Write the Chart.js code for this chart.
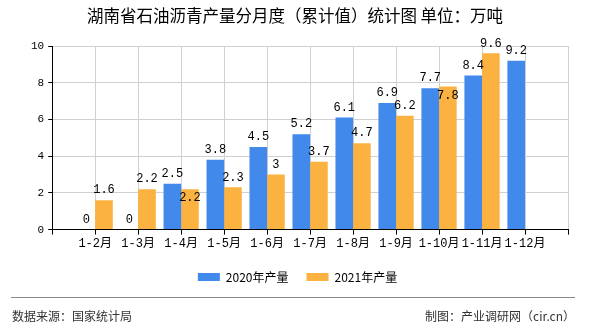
<!DOCTYPE html>
<html>
<head>
<meta charset="utf-8">
<script src="https://cdn.jsdelivr.net/npm/chart.js@4/dist/chart.umd.min.js"></script>
<style>
  html, body { margin: 0; padding: 0; background: #fff; }
  #wrap { width: 590px; height: 330px; position: relative; }
</style>
</head>
<body>
<div id="wrap"><canvas id="chart"></canvas></div>
<script>
// 湖南省石油沥青产量 — cumulative by month, unit 万吨
var months = ["1-2月", "1-3月", "1-4月", "1-5月", "1-6月", "1-7月", "1-8月", "1-9月", "1-10月", "1-11月", "1-12月"];
var output2020 = [0, 0, 2.5, 3.8, 4.5, 5.2, 6.1, 6.9, 7.7, 8.4, 9.2];
var output2021 = [1.6, 2.2, 2.2, 2.3, 3, 3.7, 4.7, 6.2, 7.8, 9.6, null];
var yTicks = [0, 2, 4, 6, 8, 10];

var titleText = "湖南省石油沥青产量分月度（累计值）统计图 单位：万吨";
var sourceText = "数据来源：国家统计局";
var makerText = "制图：产业调研网（cir.cn）";

var numFont = "'Liberation Mono', 'Noto Sans CJK SC', monospace";
var cjkFont = "'Noto Sans CJK SC', sans-serif";

// empty slot before first month and after last, like the original axis
var labels = [""].concat(months).concat([""]);
function pad(arr) { return [null].concat(arr).concat([null]); }

function overlaps(a, b) {
  return a.x1 < b.x2 && a.x2 > b.x1 && a.y1 < b.y2 && a.y2 > b.y1;
}

var decorPlugin = {
  id: "decor",
  afterDatasetsDraw: function (chart) {
    var ctx = chart.ctx;
    var placed = {}; // label boxes by category index
    ctx.save();
    ctx.fillStyle = "#000";
    ctx.font = "12px " + numFont;
    ctx.textAlign = "center";
    chart.data.datasets.forEach(function (ds, i) {
      var meta = chart.getDatasetMeta(i);
      meta.data.forEach(function (bar, j) {
        var v = ds.data[j];
        if (v === null || v === undefined) return;
        var txt = String(v);
        var w = ctx.measureText(txt).width + 2;
        var box = { x1: bar.x - w / 2, x2: bar.x + w / 2, y1: bar.y - 15, y2: bar.y - 4 };
        var prev = placed[j] || [];
        var hit = prev.some(function (p) { return overlaps(p, box); });
        if (hit) {
          // push the label into the top of its bar, as the original does
          ctx.textBaseline = "top";
          ctx.fillText(txt, bar.x, bar.y + 3);
          box = { x1: box.x1, x2: box.x2, y1: bar.y + 3, y2: bar.y + 14 };
        } else {
          ctx.textBaseline = "bottom";
          ctx.fillText(txt, bar.x, bar.y - 4);
        }
        prev.push(box);
        placed[j] = prev;
      });
    });
    ctx.restore();
  },
  afterDraw: function (chart) {
    var ctx = chart.ctx;
    ctx.save();
    ctx.fillStyle = "#000";
    ctx.font = "16.5px " + cjkFont;
    ctx.textAlign = "center";
    ctx.textBaseline = "middle";
    ctx.fillText(titleText, 295, 16);

    ctx.strokeStyle = "#888";
    ctx.lineWidth = 1;
    ctx.beginPath();
    ctx.moveTo(11, 297.5);
    ctx.lineTo(575, 297.5);
    ctx.stroke();

    ctx.fillStyle = "#333";
    ctx.font = "12px " + cjkFont;
    ctx.textAlign = "left";
    ctx.fillText(sourceText, 12, 316);
    ctx.textAlign = "right";
    ctx.fillText(makerText, 575, 316);
    ctx.restore();
  }
};

new Chart(document.getElementById("chart"), {
  type: "bar",
  data: {
    labels: labels,
    datasets: [
      {
        label: "2020年产量",
        data: pad(output2020),
        backgroundColor: "#4189ea",
        barPercentage: 1,
        categoryPercentage: 0.82
      },
      {
        label: "2021年产量",
        data: pad(output2021),
        backgroundColor: "#fbb241",
        barPercentage: 1,
        categoryPercentage: 0.82
      }
    ]
  },
  options: {
    responsive: true,
    maintainAspectRatio: false,
    animation: false,
    layout: { padding: { top: 46, right: 22, bottom: 37, left: 27 } },
    scales: {
      x: {
        offset: false,
        grid: { offset: false, color: "#d0d0d0", tickColor: "#000", tickLength: 5, drawOnChartArea: true },
        border: { color: "#000", width: 1 },
        ticks: { color: "#000", font: { size: 12, family: numFont }, maxRotation: 0, autoSkip: false, padding: 2 }
      },
      y: {
        min: 0,
        max: 10,
        afterBuildTicks: function (axis) {
          axis.ticks = yTicks.map(function (v) { return { value: v }; });
        },
        grid: { color: "#d0d0d0", tickColor: "#000", tickLength: 4 },
        border: { color: "#000", width: 1 },
        ticks: { color: "#000", font: { size: 11, family: numFont }, padding: 4 }
      }
    },
    plugins: {
      title: { display: false },
      tooltip: { enabled: false },
      legend: {
        position: "bottom",
        labels: {
          boxWidth: 22,
          boxHeight: 8,
          padding: 18,
          color: "#000",
          font: { size: 12, family: cjkFont }
        }
      }
    }
  },
  plugins: [decorPlugin]
});
</script>
</body>
</html>
